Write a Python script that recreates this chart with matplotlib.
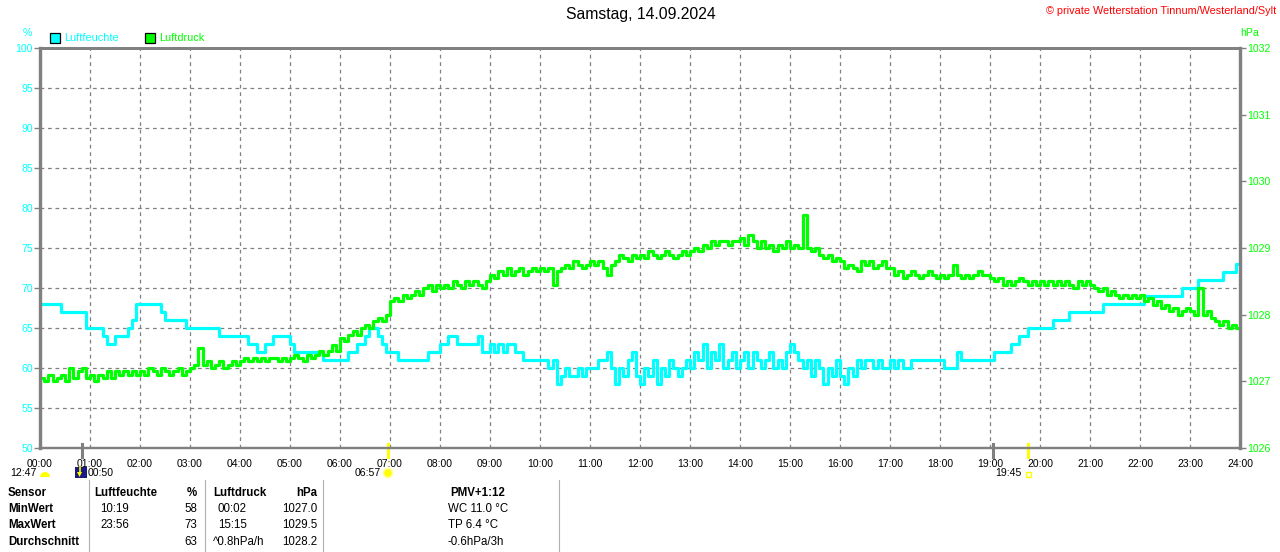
import numpy as np
import matplotlib
matplotlib.use("Agg")
import matplotlib.pyplot as plt
from matplotlib.patches import Rectangle, Wedge, Circle, Polygon

plt.rcParams['font.family'] = ['Liberation Sans', 'DejaVu Sans']

# 5-minute values, 00:00 .. 24:00 (one row per hour)
hours = np.arange(289) / 12.0

humidity = [
    68, 68, 68, 68, 68, 67, 67, 67, 67, 67, 67, 65,
    65, 65, 65, 64, 63, 63, 64, 64, 64, 65, 66, 68,
    68, 68, 68, 68, 68, 67, 66, 66, 66, 66, 66, 65,
    65, 65, 65, 65, 65, 65, 65, 64, 64, 64, 64, 64,
    64, 64, 63, 63, 62, 62, 63, 63, 64, 64, 64, 64,
    63, 62, 62, 62, 62, 62, 62, 62, 61, 61, 61, 61,
    61, 61, 62, 62, 63, 63, 64, 65, 65, 64, 63, 62,
    62, 62, 61, 61, 61, 61, 61, 61, 61, 62, 62, 62,
    63, 63, 64, 64, 63, 63, 63, 63, 63, 64, 62, 62,
    63, 62, 63, 62, 63, 63, 62, 62, 61, 61, 61, 61,
    61, 61, 60, 61, 58, 59, 60, 59, 59, 60, 59, 60,
    60, 60, 61, 61, 62, 60, 58, 60, 59, 61, 62, 59,
    58, 60, 59, 61, 58, 60, 59, 61, 60, 59, 60, 61,
    60, 62, 61, 63, 60, 62, 61, 63, 60, 61, 62, 60,
    61, 62, 60, 62, 61, 60, 61, 62, 60, 61, 60, 62,
    63, 62, 61, 60, 61, 59, 61, 60, 58, 60, 59, 61,
    59, 58, 60, 59, 61, 60, 61, 61, 60, 61, 60, 60,
    61, 60, 61, 60, 60, 61, 61, 61, 61, 61, 61, 61,
    61, 60, 60, 60, 62, 61, 61, 61, 61, 61, 61, 61,
    61, 62, 62, 62, 62, 63, 63, 64, 64, 65, 65, 65,
    65, 65, 65, 66, 66, 66, 66, 67, 67, 67, 67, 67,
    67, 67, 67, 68, 68, 68, 68, 68, 68, 68, 68, 68,
    68, 69, 69, 69, 69, 69, 69, 69, 69, 69, 70, 70,
    70, 70, 71, 71, 71, 71, 71, 71, 72, 72, 72, 73,
    73]

pressure = [
    1027.05, 1027.0, 1027.1, 1027.0, 1027.05, 1027.1, 1027.0, 1027.2, 1027.05, 1027.15, 1027.2, 1027.05,
    1027.1, 1027.0, 1027.1, 1027.05, 1027.15, 1027.05, 1027.15, 1027.1, 1027.15, 1027.1, 1027.15, 1027.1,
    1027.15, 1027.1, 1027.2, 1027.15, 1027.1, 1027.2, 1027.15, 1027.1, 1027.15, 1027.2, 1027.1, 1027.15,
    1027.2, 1027.25, 1027.5, 1027.25, 1027.3, 1027.2, 1027.25, 1027.3, 1027.2, 1027.25, 1027.3, 1027.25,
    1027.3, 1027.35, 1027.3, 1027.35, 1027.3, 1027.35, 1027.3, 1027.35, 1027.35, 1027.3, 1027.35, 1027.3,
    1027.35, 1027.4, 1027.35, 1027.3, 1027.4, 1027.35, 1027.4, 1027.45, 1027.4, 1027.45, 1027.55, 1027.45,
    1027.65, 1027.6, 1027.7, 1027.75, 1027.7, 1027.8, 1027.85, 1027.8, 1027.9, 1027.95, 1027.9, 1028.0,
    1028.2, 1028.25, 1028.2, 1028.3, 1028.25, 1028.3, 1028.35, 1028.3, 1028.4, 1028.45, 1028.35, 1028.45,
    1028.4, 1028.45, 1028.4, 1028.5, 1028.45, 1028.4, 1028.5, 1028.45, 1028.5, 1028.45, 1028.4, 1028.5,
    1028.6, 1028.55, 1028.65, 1028.6, 1028.7, 1028.6, 1028.65, 1028.7, 1028.6, 1028.65, 1028.7, 1028.65,
    1028.7, 1028.65, 1028.7, 1028.45, 1028.65, 1028.7, 1028.75, 1028.7, 1028.8, 1028.75, 1028.7, 1028.75,
    1028.8, 1028.75, 1028.8, 1028.7, 1028.6, 1028.75, 1028.8, 1028.9, 1028.85, 1028.8, 1028.9, 1028.85,
    1028.9, 1028.85, 1028.95, 1028.9, 1028.85, 1028.9, 1028.95, 1028.9, 1028.85, 1028.9, 1028.95, 1028.9,
    1028.95, 1029.0, 1028.95, 1029.05, 1029.0, 1029.1, 1029.05, 1029.1, 1029.1, 1029.05, 1029.1, 1029.1,
    1029.15, 1029.05, 1029.2, 1029.1, 1029.0, 1029.1, 1029.0, 1029.05, 1028.95, 1029.05, 1029.0, 1029.1,
    1029.0, 1029.05, 1029.0, 1029.5, 1029.0, 1028.95, 1029.0, 1028.9, 1028.85, 1028.9, 1028.8, 1028.85,
    1028.8, 1028.7, 1028.75, 1028.7, 1028.65, 1028.8, 1028.75, 1028.8, 1028.7, 1028.75, 1028.8, 1028.7,
    1028.7, 1028.6, 1028.65, 1028.55, 1028.6, 1028.65, 1028.6, 1028.55, 1028.6, 1028.65, 1028.6, 1028.55,
    1028.6, 1028.55, 1028.6, 1028.75, 1028.6, 1028.55, 1028.6, 1028.55, 1028.6, 1028.65, 1028.6, 1028.6,
    1028.55, 1028.5, 1028.55, 1028.45, 1028.5, 1028.45, 1028.5, 1028.55, 1028.5, 1028.45, 1028.5, 1028.45,
    1028.5, 1028.45, 1028.5, 1028.45, 1028.5, 1028.45, 1028.5, 1028.45, 1028.4, 1028.5, 1028.45, 1028.5,
    1028.45, 1028.4, 1028.35, 1028.4, 1028.3, 1028.35, 1028.3, 1028.25, 1028.3, 1028.25, 1028.3, 1028.25,
    1028.3, 1028.2, 1028.25, 1028.15, 1028.2, 1028.1, 1028.15, 1028.05, 1028.1, 1028.0, 1028.05, 1028.1,
    1028.05, 1028.0, 1028.4, 1028.0, 1028.05, 1027.95, 1027.9, 1027.85, 1027.9, 1027.8, 1027.85, 1027.8,
    1027.8]

hour_labels = ["%02d:00" % h for h in range(25)]
hum_ticks = list(range(50, 101, 5))
pres_ticks = list(range(1026, 1033))

# table under the chart
table_rows = ["MinWert", "MaxWert", "Durchschnitt"]
hum_time = ["10:19", "23:56", ""]
hum_val = ["58", "73", "63"]
pres_time = ["00:02", "15:15", "^0.8hPa/h"]
pres_val = ["1027.0", "1029.5", "1028.2"]
pmv_lines = ["WC 11.0 °C", "TP 6.4 °C", "-0.6hPa/3h"]

CYAN = "#00ffff"
GREEN = "#00ff00"
YELLOW = "#ffff00"
GRAY = "#808080"
W, H = 1280, 552

fig = plt.figure(figsize=(12.8, 5.52), dpi=100)
ax = fig.add_axes([40 / W, 1 - 448 / H, 1200 / W, 400 / H])
ax2 = ax.twinx()

ax.plot(hours, humidity, color=CYAN, lw=2.3, drawstyle="steps-post")
ax2.plot(hours, pressure, color=GREEN, lw=2.3, drawstyle="steps-post")

ax.set_xlim(0, 24)
ax.set_ylim(50, 100)
ax2.set_ylim(1026, 1032)
ax.set_xticks(range(25))
ax.set_xticklabels(hour_labels, fontsize=7.5)
ax.set_yticks(hum_ticks)
ax.set_yticklabels([str(v) for v in hum_ticks], fontsize=7.6, color=CYAN)
ax2.set_yticks(pres_ticks)
ax2.set_yticklabels([str(v) for v in pres_ticks], fontsize=7.6, color=GREEN)
ax.tick_params(axis="x", length=0, pad=8)
ax.tick_params(axis="y", length=4, width=1, color=GRAY, pad=1)
ax2.tick_params(axis="y", length=4, width=1, color=GRAY, pad=1)
ax.grid(True, color=GRAY, linestyle=(0, (3, 3)), linewidth=0.9)
ax.set_axisbelow(True)

for a in (ax, ax2):
    for s in a.spines.values():
        s.set_color(GRAY)
    a.spines["left"].set_linewidth(2.3)
    a.spines["right"].set_linewidth(2.3)
    a.spines["top"].set_linewidth(2.0)
    a.spines["bottom"].set_linewidth(1.6)

# moon / sun markers on the time axis
for t, c in [(50 / 60, GRAY), (19 + 4 / 60, GRAY), (6 + 57 / 60, YELLOW), (19 + 45 / 60, YELLOW)]:
    ax.axvline(t, ymin=-0.022, ymax=0.01, color=c, lw=2.2, clip_on=False)

# overlay in pixel coordinates for texts and icons
ov = fig.add_axes([0, 0, 1, 1])
ov.set_xlim(0, W)
ov.set_ylim(H, 0)
ov.axis("off")

ov.text(641, 15, "Samstag, 14.09.2024", fontsize=11.3, ha="center", va="center")
ov.text(1276, 11, "© private Wetterstation Tinnum/Westerland/Sylt",
        fontsize=7.8, color="red", ha="right", va="center")
ov.text(27, 33, "%", fontsize=7.6, color=CYAN, ha="center", va="center")
ov.text(1250, 33, "hPa", fontsize=7.6, color=GREEN, ha="center", va="center")

# legend
for x0, col, name in [(50, CYAN, "Luftfeuchte"), (145, GREEN, "Luftdruck")]:
    ov.add_patch(Rectangle((x0, 33), 10, 10, facecolor=col, edgecolor="black", lw=0.9))
    ov.text(x0 + 14, 38, name, fontsize=7.8, color=col, ha="left", va="center")

# rise / set times
ov.text(10, 473, "12:47", fontsize=7.6, ha="left", va="center")
ov.add_patch(Wedge((45, 477), 5, 180, 360, facecolor=YELLOW, edgecolor="none"))
ov.add_patch(Rectangle((75, 467), 12, 11, facecolor="#1a1a80", edgecolor="none"))
ov.add_patch(Polygon([(77, 472), (82, 472), (79.5, 477)], closed=True,
                     facecolor=YELLOW, edgecolor="none"))
ov.plot([79.5, 79.5], [467, 473], color=YELLOW, lw=1.2)
ov.text(88, 473, "00:50", fontsize=7.6, ha="left", va="center")
ov.text(381, 473, "06:57", fontsize=7.6, ha="right", va="center")
ov.add_patch(Circle((388, 473), 5.5, facecolor="#ffffaa", edgecolor="none"))
ov.add_patch(Circle((388, 473), 3.8, facecolor=YELLOW, edgecolor="none"))
ov.text(1022, 473, "19:45", fontsize=7.6, ha="right", va="center")
ov.add_patch(Rectangle((1026, 472), 5, 5, facecolor="none", edgecolor=YELLOW, lw=1))

# table
row_y = [509, 525, 542]
fs = 8.3
ov.text(8, 493, "Sensor", fontsize=fs, fontweight="bold", va="center")
ov.text(94, 493, "Luftfeuchte", fontsize=fs, fontweight="bold", va="center")
ov.text(197, 493, "%", fontsize=fs, fontweight="bold", va="center", ha="right")
ov.text(213, 493, "Luftdruck", fontsize=fs, fontweight="bold", va="center")
ov.text(317, 493, "hPa", fontsize=fs, fontweight="bold", va="center", ha="right")
ov.text(478, 493, "PMV+1:12", fontsize=fs, fontweight="bold", va="center", ha="center")
for i, y in enumerate(row_y):
    ov.text(8, y, table_rows[i], fontsize=fs, fontweight="bold", va="center")
    ov.text(100, y, hum_time[i], fontsize=fs, va="center")
    ov.text(197, y, hum_val[i], fontsize=fs, va="center", ha="right")
    x_pt = 213 if pres_time[i].startswith("^") else 218
    ov.text(x_pt, y, pres_time[i], fontsize=fs, va="center")
    ov.text(317, y, pres_val[i], fontsize=fs, va="center", ha="right")
    ov.text(448, y, pmv_lines[i], fontsize=fs, va="center")

for xs in [89, 205, 323, 559]:
    ov.plot([xs, xs], [480, 552], color="#b0b0b0", lw=0.8)

fig.savefig("out.png", dpi=100)
